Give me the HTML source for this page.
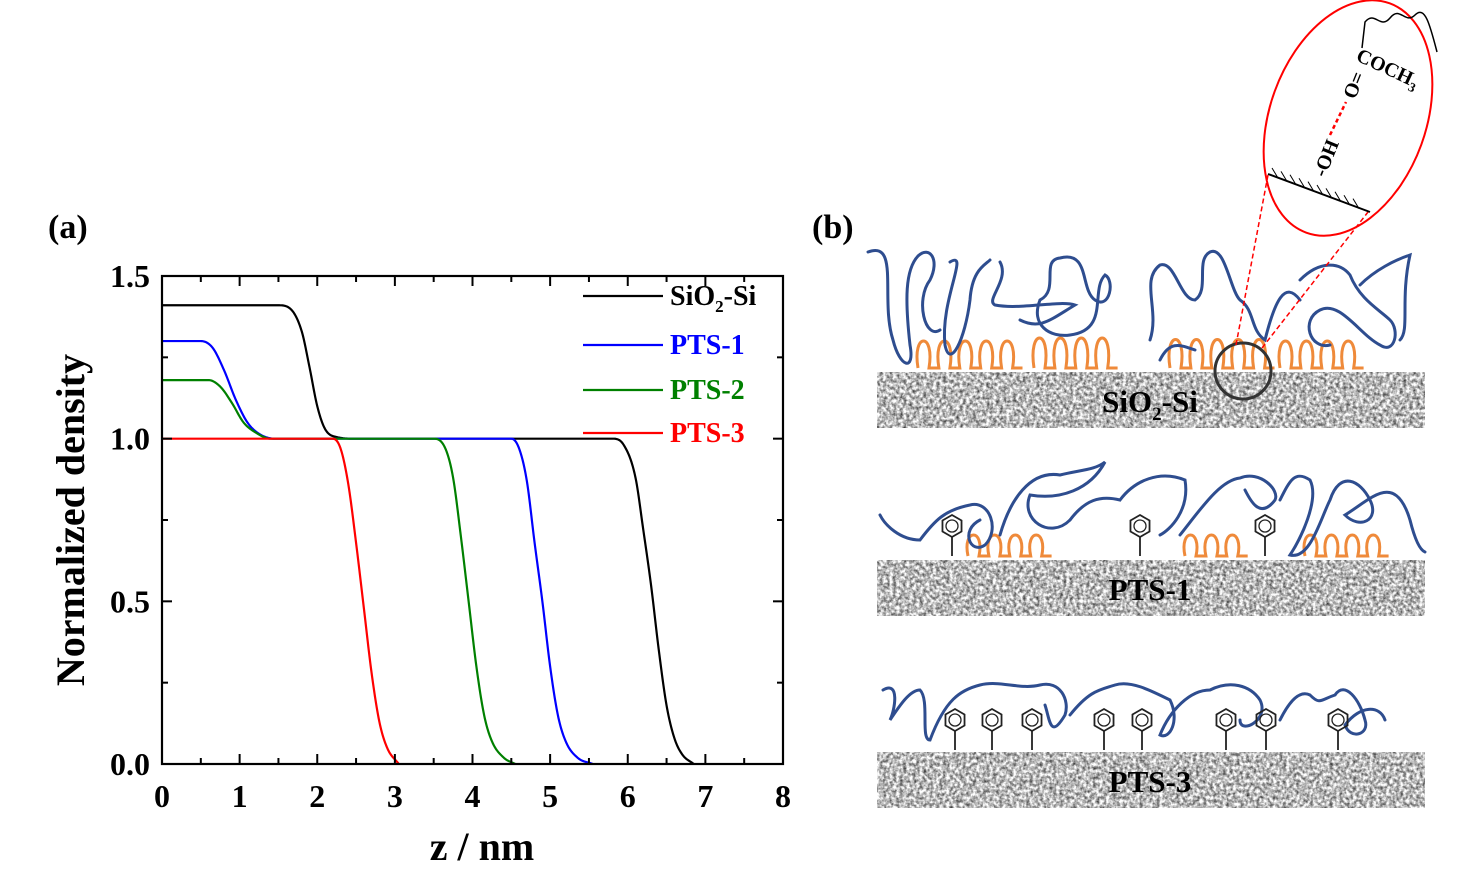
<!DOCTYPE html>
<html><head><meta charset="utf-8"><style>
html,body{margin:0;padding:0;background:#fff;}
svg{display:block;font-family:"Liberation Serif",serif;font-weight:bold;}
</style></head><body>
<svg id="fig" width="1458" height="881" viewBox="0 0 1458 881">
<defs>
<filter id="noise" x="0" y="0" width="100%" height="100%" color-interpolation-filters="sRGB">
<feTurbulence type="fractalNoise" baseFrequency="0.3" numOctaves="3" seed="3"/>
<feColorMatrix type="matrix" values="1.3 0 0 0 0.08  1.3 0 0 0 0.08  1.3 0 0 0 0.08  0 0 0 0 1"/>
</filter>
</defs>
<text x="48" y="238" font-size="34">(a)</text>
<text x="812" y="238" font-size="34">(b)</text>
<g id="chart"></g>
<g id="schem"></g>
</svg>
<script>
const xTicks=[0,1,2,3,4,5,6,7,8];
const yTicks=[0.0,0.5,1.0,1.5];
const yTickLabels=["0.0","0.5","1.0","1.5"];
const seriesNames=["SiO2-Si","PTS-1","PTS-2","PTS-3"];
const seriesColors=["#000000","#0000ff","#008000","#ff0000"];
const sio2X=[0,1.5,1.65,1.8,1.9,2.0,2.1,2.25,2.5,5.8,5.95,6.1,6.2,6.3,6.4,6.5,6.6,6.7,6.85];
const sio2Y=[1.41,1.41,1.40,1.33,1.22,1.10,1.03,1.005,1.0,1.0,0.98,0.88,0.72,0.55,0.35,0.18,0.08,0.03,0];
const pts1X=[0,0.5,0.65,0.8,0.95,1.1,1.25,1.45,4.5,4.6,4.7,4.8,4.9,5.0,5.1,5.2,5.35,5.55];
const pts1Y=[1.30,1.30,1.28,1.21,1.12,1.05,1.015,1.0,1.0,0.97,0.87,0.68,0.5,0.3,0.15,0.07,0.02,0];
const pts2X=[0,0.6,0.75,0.9,1.05,1.2,1.4,3.5,3.65,3.75,3.85,3.95,4.05,4.15,4.25,4.4,4.55];
const pts2Y=[1.18,1.18,1.16,1.11,1.05,1.02,1.0,1.0,0.97,0.88,0.7,0.5,0.3,0.15,0.07,0.02,0];
const pts3X=[0,2.2,2.3,2.4,2.5,2.6,2.7,2.8,2.9,3.05];
const pts3Y=[1.0,1.0,0.97,0.86,0.68,0.48,0.28,0.13,0.05,0];
const NS="http://www.w3.org/2000/svg";
const X0=162,X1=783,Y0=764,Y1=276,XMAX=8,YMAX=1.5;
const sx=v=>X0+(X1-X0)*v/XMAX, sy=v=>Y0-(Y0-Y1)*v/YMAX;
function mk(tag,at,parent){const e=document.createElementNS(NS,tag);for(const k in at)e.setAttribute(k,at[k]);parent.appendChild(e);return e;}
const g=document.getElementById('chart');
function pathFrom(xs,ys){const n=xs.length,d=[],m=new Array(n).fill(0);
 for(let i=0;i<n-1;i++)d.push((ys[i+1]-ys[i])/(xs[i+1]-xs[i]));
 m[0]=d[0];m[n-1]=d[n-2];
 for(let i=1;i<n-1;i++){if(d[i-1]*d[i]<=0)m[i]=0;else m[i]=(d[i-1]+d[i])/2;}
 for(let i=0;i<n-1;i++){if(d[i]===0){m[i]=0;m[i+1]=0;continue;}const a=m[i]/d[i],b=m[i+1]/d[i],h=a*a+b*b;if(h>9){const t=3/Math.sqrt(h);m[i]=t*a*d[i];m[i+1]=t*b*d[i];}}
 let s="M"+sx(xs[0])+","+sy(ys[0]);
 for(let i=0;i<n-1;i++){const h=xs[i+1]-xs[i];
  for(let k=1;k<=12;k++){const t=k/12,t2=t*t,t3=t2*t;
   const y=(2*t3-3*t2+1)*ys[i]+(t3-2*t2+t)*h*m[i]+(-2*t3+3*t2)*ys[i+1]+(t3-t2)*h*m[i+1];
   s+=" L"+sx(xs[i]+t*h).toFixed(2)+","+sy(y).toFixed(2);}}
 return s;}
const series=[[sio2X,sio2Y],[pts1X,pts1Y],[pts2X,pts2Y],[pts3X,pts3Y]];
series.forEach((s,i)=>{const p=mk('path',{d:pathFrom(s[0],s[1]),fill:'none',stroke:seriesColors[i],'stroke-width':2.2,'stroke-linejoin':'round'},g);

});
const frame=mk('rect',{x:X0,y:Y1,width:X1-X0,height:Y0-Y1,fill:'none',stroke:'#000','stroke-width':2.2},g);


xTicks.forEach((t,i)=>{const x=sx(t);
 mk('line',{x1:x,x2:x,y1:Y0,y2:Y0-10,stroke:'#000','stroke-width':2},g);
 mk('line',{x1:x,x2:x,y1:Y1,y2:Y1+10,stroke:'#000','stroke-width':2},g);
 if(i<xTicks.length-1){const m=sx(t+0.5);mk('line',{x1:m,x2:m,y1:Y0,y2:Y0-6,stroke:'#000','stroke-width':2},g);mk('line',{x1:m,x2:m,y1:Y1,y2:Y1+6,stroke:'#000','stroke-width':2},g);}
 const tx=mk('text',{x:x,y:Y0+43,'font-size':32,'text-anchor':'middle'},g);tx.textContent=t;
 
 });
yTicks.forEach((t,i)=>{const y=sy(t);
 mk('line',{x1:X0,x2:X0+10,y1:y,y2:y,stroke:'#000','stroke-width':2},g);
 mk('line',{x1:X1,x2:X1-10,y1:y,y2:y,stroke:'#000','stroke-width':2},g);
 if(i<yTicks.length-1){const m=sy(t+0.25);mk('line',{x1:X0,x2:X0+6,y1:m,y2:m,stroke:'#000','stroke-width':2},g);mk('line',{x1:X1,x2:X1-6,y1:m,y2:m,stroke:'#000','stroke-width':2},g);}
 const tx=mk('text',{x:X0-12,y:y+11,'font-size':32,'text-anchor':'end'},g);tx.textContent=yTickLabels[i];
 
 });
const xt=mk('text',{x:482,y:860,'font-size':40,'text-anchor':'middle'},g);xt.textContent="z / nm";


const yt=mk('text',{x:0,y:0,'font-size':40,'text-anchor':'middle',transform:'translate(84,520) rotate(-90)'},g);yt.textContent="Normalized density";


const legY=[296,345,390,433];
seriesNames.forEach((n,i)=>{mk('line',{x1:583,x2:663,y1:legY[i],y2:legY[i],stroke:seriesColors[i],'stroke-width':2.2},g);
 const tx=mk('text',{x:670,y:legY[i]+9,'font-size':28,fill:i==0?'#000':seriesColors[i]},g);
 if(i==0){tx.innerHTML='SiO<tspan font-size="17" dy="7">2</tspan><tspan dy="-7">-Si</tspan>';}else tx.textContent=n;
 
 });
const s=document.getElementById('schem');
const slabs=[[372,"SiO2-Si"],[560,"PTS-1"],[752,"PTS-3"]];
slabs.forEach((sl,i)=>{mk('rect',{x:877,y:sl[0],width:548,height:56,fill:'#aaa',filter:'url(#noise)'},s);
 const tx=mk('text',{x:1150,y:sl[0]+40,'font-size':31,'text-anchor':'middle'},s);
 if(i==0)tx.innerHTML='SiO<tspan font-size="19" dy="8">2</tspan><tspan dy="-8">-Si</tspan>';else tx.textContent=sl[1];
 
 });
function brush(x0,x1,base,h){let d="M"+x0+","+base;let x=x0;const w=11;while(x+w<=x1){d+=" C"+(x-6)+","+(base-h)+" "+(x+w+6)+","+(base-h)+" "+(x+w)+","+base;x+=w*1.9;d+=" L"+x+","+base;}
 mk('path',{d:d,fill:'none',stroke:'#ef8a3a','stroke-width':3},s);}
brush(918,1018,368,36);brush(1034,1128,368,40);brush(1170,1270,368,38);brush(1280,1365,368,36);
brush(968,1050,556,28);brush(1185,1240,556,28);brush(1305,1392,556,28);
const chains=["M868,252 C900,240 880,300 893,340 C900,368 915,372 910,345 C905,300 905,270 918,256 C930,245 940,260 930,280 C915,300 925,340 940,330",
"M950,262 C970,250 940,300 945,345 C950,370 965,340 970,300 C972,270 985,265 990,260",
"M1000,262 C1010,280 985,300 995,305 C1020,310 1060,300 1075,305 C1050,320 1040,330 1020,320",
"M1040,300 C1060,290 1040,260 1060,258 C1090,250 1080,290 1095,300 C1110,310 1115,280 1105,275 C1090,290 1110,330 1070,335 C1050,338 1030,325 1040,300",
"M1150,340 C1160,310 1140,280 1160,265 C1175,260 1180,300 1195,300 C1210,290 1195,260 1210,252 C1225,245 1230,290 1240,300 C1255,310 1250,330 1265,340 C1275,300 1285,280 1300,300",
"M1160,360 C1170,340 1180,345 1195,350",
"M1300,280 C1320,260 1340,262 1350,275 C1360,300 1380,310 1390,320 C1400,330 1395,355 1380,345 C1360,335 1340,300 1320,310 C1300,320 1310,350 1330,345",
"M1360,285 C1375,270 1395,260 1410,255 C1400,300 1410,330 1400,340",
"M880,515 C885,525 900,540 920,540 C935,520 945,510 970,505 C990,500 1000,530 985,545 C970,555 960,530 980,520",
"M1000,535 C1010,500 1030,470 1060,475 C1080,470 1095,470 1105,462 C1090,490 1060,500 1030,495 C1020,520 1050,540 1070,520",
"M1070,520 C1085,500 1100,495 1120,500 C1135,480 1160,470 1185,480 C1190,510 1170,530 1160,535",
"M1180,535 C1200,510 1220,480 1240,478 C1260,470 1280,490 1275,500 C1260,520 1250,500 1245,490",
"M1280,500 C1290,480 1295,470 1310,480 C1320,500 1300,540 1290,555 C1310,560 1320,520 1330,500 C1340,470 1360,480 1370,500 C1380,520 1360,530 1345,515 C1370,500 1395,470 1410,520 C1415,540 1420,550 1425,552",
"M883,690 C900,680 895,710 890,720 C900,705 910,690 920,690 C930,700 920,740 930,740 C945,700 960,690 980,685 C1000,680 1020,690 1040,685 C1060,680 1070,700 1065,715 C1050,740 1050,720 1045,705",
"M1070,715 C1090,690 1100,690 1115,685 C1130,680 1150,690 1170,700 C1180,720 1170,740 1160,735 C1170,710 1190,690 1210,690 C1230,680 1250,685 1260,700 C1270,720 1240,735 1240,720",
"M1280,720 C1290,700 1300,690 1310,695 C1320,705 1320,700 1335,695 C1345,680 1360,700 1365,720 C1370,735 1350,740 1345,725 C1360,705 1380,705 1385,720"];
chains.forEach(d=>{const p=mk('path',{d:d,fill:'none',stroke:'#2e4d8f','stroke-width':3,'stroke-linecap':'round'},s);

});
function ring(cx,base){const cy=base-30,r=11;let pts=[];for(let k=0;k<6;k++){const a=Math.PI/6+k*Math.PI/3;pts.push((cx+r*Math.cos(a))+","+(cy+r*Math.sin(a)));}
 mk('polygon',{points:pts.join(' '),fill:'none',stroke:'#222','stroke-width':1.8},s);
 mk('circle',{cx:cx,cy:cy,r:6,fill:'none',stroke:'#222','stroke-width':1.3},s);
 mk('line',{x1:cx,x2:cx,y1:cy+r,y2:base,stroke:'#222','stroke-width':1.8},s);}
[952,1140,1265].forEach(c=>ring(c,556));
[955,992,1032,1104,1142,1226,1266,1338].forEach(c=>ring(c,750));
mk('circle',{cx:1243,cy:371,r:28,fill:'none',stroke:'#333','stroke-width':3},s);
mk('line',{x1:1236,y1:345,x2:1268,y2:175,stroke:'#f00','stroke-width':1.5,'stroke-dasharray':'5,3'},s);
mk('line',{x1:1262,y1:348,x2:1368,y2:212,stroke:'#f00','stroke-width':1.5,'stroke-dasharray':'5,3'},s);
mk('ellipse',{cx:1348,cy:118,rx:78,ry:122,fill:'none',stroke:'#f00','stroke-width':2,transform:'rotate(20 1348 118)'},s);
mk('line',{x1:1268,y1:174,x2:1370,y2:212,stroke:'#000','stroke-width':2},s);
for(let k=0;k<10;k++){const x=1278+k*9,y=178+k*3.4;mk('line',{x1:x,y1:y,x2:x-6,y2:y-10,stroke:'#000','stroke-width':1},s);}
const oh=mk('text',{x:0,y:0,'font-size':20,transform:'translate(1325,178) rotate(-68)'},s);oh.textContent="-OH";
mk('line',{x1:1330,y1:135,x2:1346,y2:102,stroke:'#f00','stroke-width':2.5,'stroke-dasharray':'4,3'},s);
const oe=mk('text',{x:0,y:0,'font-size':20,transform:'translate(1355,100) rotate(-68)'},s);oe.textContent="O=";
const co=mk('text',{x:0,y:0,'font-size':20,transform:'translate(1355,60) rotate(25)'},s);co.innerHTML='COCH<tspan font-size="13" dy="5">3</tspan>';
mk('path',{d:"M1362,48 L1365,22 C1375,10 1380,30 1390,18 C1400,5 1405,25 1415,15 C1425,5 1430,25 1437,52",fill:'none',stroke:'#000','stroke-width':1.5},s);
</script>
</body></html>
